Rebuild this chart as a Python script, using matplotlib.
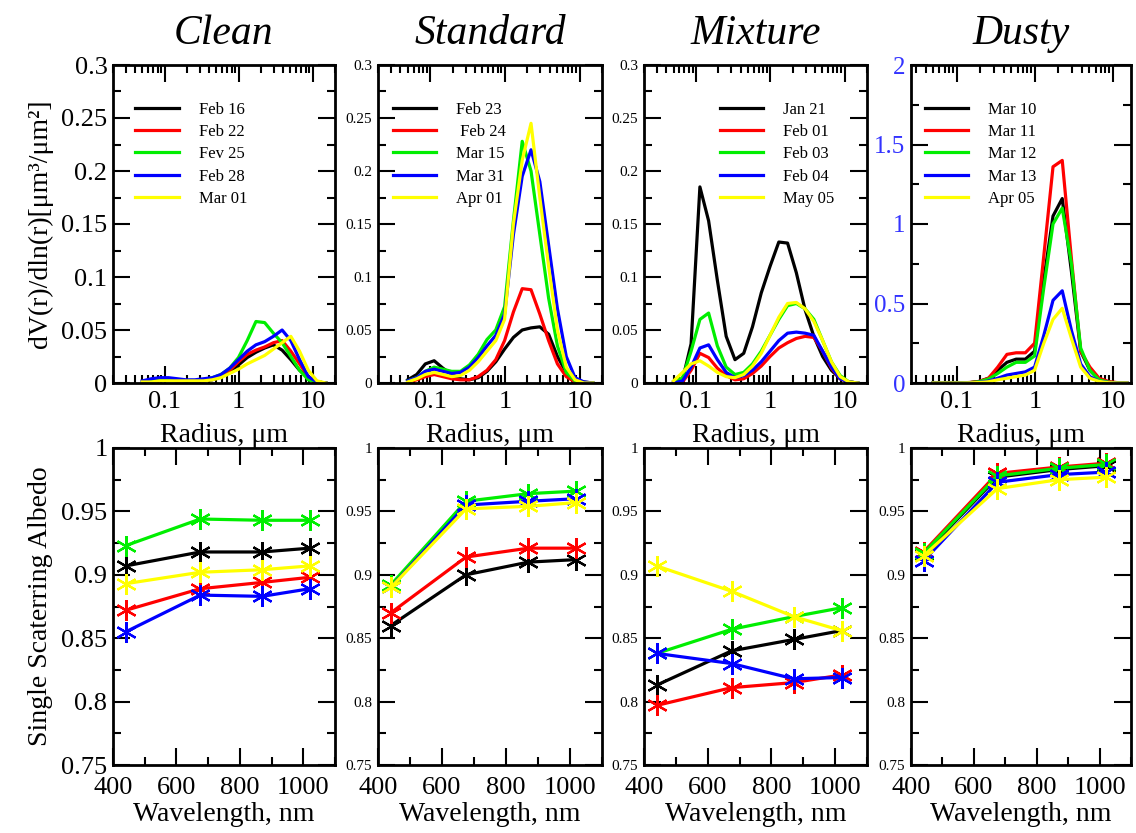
import numpy as np
import matplotlib
matplotlib.use("Agg")
import matplotlib.pyplot as plt
from matplotlib.ticker import FixedLocator, LogLocator, MultipleLocator, FuncFormatter, NullFormatter

plt.rcParams['font.family'] = ['Liberation Serif', 'DejaVu Serif']
plt.rcParams['mathtext.fontset'] = 'stix'

# ---- data -------------------------------------------------------------
titles = ["Clean", "Standard", "Mixture", "Dusty"]
colors = ["#000000", "#ff0000", "#00ee00", "#0000ff", "#ffff00"]

labels = [
    ["Feb 16", "Feb 22", "Fev 25", "Feb 28", "Mar 01"],
    ["Feb 23", " Feb 24", "Mar 15", "Mar 31", "Apr 01"],
    ["Jan 21", "Feb 01", "Feb 03", "Feb 04", "May 05"],
    ["Mar 10", "Mar 11", "Mar 12", "Mar 13", "Apr 05"],
]

radius = [0.050, 0.066, 0.086, 0.113, 0.148, 0.194, 0.255, 0.335, 0.439, 0.576, 0.756,
          0.992, 1.302, 1.708, 2.241, 2.940, 3.857, 5.061, 6.641, 8.713, 11.432, 15.0]

# size distributions dV/dlnr, one list per date
clean_sd = [
    [0.002, 0.002, 0.003, 0.003, 0.003, 0.002, 0.002, 0.002, 0.003, 0.006, 0.010,
     0.017, 0.024, 0.029, 0.033, 0.036, 0.031, 0.022, 0.012, 0.005, 0.001, 0.000],
    [0.001, 0.002, 0.002, 0.003, 0.002, 0.002, 0.002, 0.002, 0.004, 0.007, 0.012,
     0.020, 0.027, 0.031, 0.034, 0.038, 0.040, 0.030, 0.018, 0.006, 0.001, 0.000],
    [0.001, 0.002, 0.003, 0.003, 0.003, 0.002, 0.002, 0.003, 0.005, 0.008, 0.014,
     0.024, 0.040, 0.058, 0.057, 0.047, 0.038, 0.025, 0.012, 0.003, 0.001, 0.000],
    [0.002, 0.004, 0.005, 0.005, 0.004, 0.003, 0.003, 0.004, 0.005, 0.008, 0.014,
     0.022, 0.030, 0.036, 0.039, 0.044, 0.050, 0.040, 0.022, 0.006, 0.001, 0.000],
    [0.001, 0.001, 0.002, 0.002, 0.002, 0.002, 0.002, 0.002, 0.003, 0.005, 0.009,
     0.013, 0.018, 0.022, 0.026, 0.032, 0.038, 0.044, 0.030, 0.012, 0.002, 0.000],
]
standard_sd = [
    [0.003, 0.008, 0.018, 0.021, 0.014, 0.008, 0.004, 0.003, 0.005, 0.011, 0.020,
     0.032, 0.043, 0.050, 0.052, 0.053, 0.046, 0.025, 0.010, 0.003, 0.001, 0.000],
    [0.001, 0.003, 0.006, 0.008, 0.006, 0.004, 0.003, 0.003, 0.006, 0.012, 0.022,
     0.040, 0.067, 0.089, 0.088, 0.065, 0.040, 0.018, 0.006, 0.001, 0.000, 0.000],
    [0.002, 0.005, 0.011, 0.015, 0.013, 0.011, 0.011, 0.017, 0.027, 0.041, 0.050,
     0.072, 0.153, 0.228, 0.200, 0.140, 0.080, 0.035, 0.010, 0.002, 0.000, 0.000],
    [0.002, 0.005, 0.011, 0.013, 0.011, 0.009, 0.010, 0.015, 0.024, 0.035, 0.045,
     0.065, 0.140, 0.195, 0.220, 0.190, 0.130, 0.070, 0.025, 0.005, 0.001, 0.000],
    [0.001, 0.004, 0.008, 0.010, 0.008, 0.006, 0.007, 0.012, 0.020, 0.030, 0.040,
     0.060, 0.150, 0.210, 0.245, 0.175, 0.110, 0.050, 0.015, 0.003, 0.000, 0.000],
]
mixture_sd = [
    [0.001, 0.003, 0.037, 0.185, 0.153, 0.097, 0.044, 0.022, 0.028, 0.053, 0.085,
     0.110, 0.133, 0.132, 0.104, 0.069, 0.044, 0.025, 0.012, 0.004, 0.001, 0.000],
    [0.000, 0.001, 0.012, 0.028, 0.024, 0.014, 0.007, 0.003, 0.004, 0.009, 0.016,
     0.025, 0.033, 0.038, 0.042, 0.044, 0.043, 0.030, 0.014, 0.004, 0.001, 0.000],
    [0.000, 0.005, 0.030, 0.060, 0.066, 0.035, 0.015, 0.008, 0.010, 0.018, 0.030,
     0.045, 0.060, 0.073, 0.075, 0.070, 0.060, 0.040, 0.020, 0.007, 0.001, 0.000],
    [0.000, 0.002, 0.015, 0.033, 0.036, 0.022, 0.010, 0.005, 0.007, 0.012, 0.020,
     0.030, 0.040, 0.047, 0.048, 0.047, 0.045, 0.030, 0.015, 0.004, 0.001, 0.000],
    [0.002, 0.010, 0.018, 0.021, 0.016, 0.010, 0.006, 0.005, 0.008, 0.016, 0.028,
     0.045, 0.062, 0.075, 0.076, 0.070, 0.058, 0.040, 0.020, 0.006, 0.001, 0.000],
]
dusty_sd = [
    [0.000, 0.000, 0.000, 0.001, 0.003, 0.010, 0.030, 0.080, 0.130, 0.150, 0.150,
     0.200, 0.650, 1.050, 1.160, 0.700, 0.200, 0.080, 0.020, 0.005, 0.001, 0.000],
    [0.000, 0.000, 0.000, 0.001, 0.003, 0.010, 0.030, 0.100, 0.180, 0.190, 0.190,
     0.250, 0.800, 1.360, 1.400, 0.780, 0.200, 0.100, 0.030, 0.010, 0.002, 0.000],
    [0.000, 0.000, 0.000, 0.001, 0.002, 0.008, 0.025, 0.060, 0.100, 0.130, 0.130,
     0.170, 0.600, 1.000, 1.100, 0.750, 0.220, 0.080, 0.020, 0.005, 0.001, 0.000],
    [0.000, 0.000, 0.000, 0.000, 0.001, 0.004, 0.012, 0.030, 0.050, 0.060, 0.070,
     0.100, 0.300, 0.520, 0.580, 0.330, 0.120, 0.040, 0.010, 0.003, 0.000, 0.000],
    [0.000, 0.000, 0.000, 0.000, 0.001, 0.003, 0.008, 0.020, 0.030, 0.040, 0.050,
     0.080, 0.250, 0.400, 0.470, 0.280, 0.100, 0.030, 0.010, 0.002, 0.000, 0.000],
]

wavelength = [440, 675, 870, 1020]
clean_ssa = [
    [0.907, 0.918, 0.918, 0.921],
    [0.872, 0.889, 0.894, 0.898],
    [0.923, 0.944, 0.943, 0.943],
    [0.855, 0.884, 0.883, 0.889],
    [0.893, 0.902, 0.904, 0.907],
]
standard_ssa = [
    [0.860, 0.900, 0.910, 0.912],
    [0.870, 0.914, 0.921, 0.921],
    [0.892, 0.958, 0.964, 0.966],
    [0.890, 0.955, 0.958, 0.960],
    [0.890, 0.952, 0.954, 0.957],
]
mixture_ssa = [
    [0.813, 0.840, 0.849, 0.856],
    [0.797, 0.811, 0.815, 0.821],
    [0.838, 0.857, 0.867, 0.874],
    [0.838, 0.830, 0.818, 0.819],
    [0.907, 0.887, 0.867, 0.856],
]
dusty_ssa = [
    [0.916, 0.977, 0.983, 0.986],
    [0.918, 0.980, 0.985, 0.988],
    [0.917, 0.978, 0.984, 0.987],
    [0.911, 0.973, 0.979, 0.981],
    [0.915, 0.968, 0.975, 0.977],
]

size_dists = [clean_sd, standard_sd, mixture_sd, dusty_sd]
ssa_sets = [clean_ssa, standard_ssa, mixture_ssa, dusty_ssa]

# ---- layout (pixel boxes of the original) -----------------------------
W, H = 1136, 833
cols = [(113, 335), (378, 602), (644, 867), (911, 1131)]
top_row = (65, 383)
bot_row = (448, 765)
top_xlims = [(0.02, 20), (0.02, 20), (0.02, 20), (0.026, 17)]
top_ylims = [(0, 0.3), (0, 0.3), (0, 0.3), (0, 2)]
top_ysize = [19, 11, 11, 18]
bot_ysize = [19, 11, 11, 11]
legend_x = [0.10, 0.067, 0.34, 0.064]


def box(col, row):
    x0, x1 = col
    y0, y1 = row
    return [x0 / W, 1 - y1 / H, (x1 - x0) / W, (y1 - y0) / H]


def style(ax):
    ax.tick_params(which='both', direction='in', top=True, right=True, width=1.5)
    ax.tick_params(which='major', length=12)
    ax.tick_params(which='minor', length=6)
    for s in ax.spines.values():
        s.set_linewidth(2)


fmt = FuncFormatter(lambda v, p: f"{v:g}")

fig = plt.figure(figsize=(W / 100, H / 100), dpi=100)

for i in range(4):
    # size distribution panels
    ax = fig.add_axes(box(cols[i], top_row))
    for k in range(5):
        ax.plot(radius, size_dists[i][k], color=colors[k], lw=2.3, label=labels[i][k])
    ax.set_xscale('log')
    ax.set_xlim(*top_xlims[i])
    ax.set_ylim(*top_ylims[i])
    ax.xaxis.set_major_locator(FixedLocator([0.1, 1, 10]))
    ax.xaxis.set_major_formatter(fmt)
    ax.xaxis.set_minor_locator(LogLocator(subs=np.arange(2, 10)))
    ax.xaxis.set_minor_formatter(NullFormatter())
    if i == 3:
        ax.yaxis.set_major_locator(MultipleLocator(0.5))
        ax.yaxis.set_minor_locator(MultipleLocator(0.25))
    else:
        ax.yaxis.set_major_locator(MultipleLocator(0.05))
        ax.yaxis.set_minor_locator(MultipleLocator(0.025))
    ax.yaxis.set_major_formatter(fmt)
    style(ax)
    ax.tick_params(axis='x', labelsize=19, pad=6)
    ax.tick_params(axis='y', labelsize=top_ysize[i], pad=4)
    if i == 3:
        ax.tick_params(axis='y', labelcolor='#3333ff')
    ax.set_xlabel("Radius, \u03bcm", fontsize=20, labelpad=7)
    ax.set_title(titles[i], fontsize=30, style='italic', pad=15)
    ax.legend(loc='upper left', bbox_to_anchor=(legend_x[i], 0.885), frameon=False,
              fontsize=12, handlelength=2.6, handletextpad=1.2, labelspacing=0.38,
              borderpad=0, borderaxespad=0)
    if i == 0:
        ax.set_ylabel("dV(r)/dln(r)[\u03bcm\u00b3/\u03bcm\u00b2]", fontsize=20, labelpad=6)

    # single scattering albedo panels
    ax = fig.add_axes(box(cols[i], bot_row))
    for k in range(5):
        ax.plot(wavelength, ssa_sets[i][k], color=colors[k], lw=2.3,
                marker=(6, 2, 0), markersize=15, markeredgewidth=1.6)
    ax.set_xlim(400, 1100)
    ax.set_ylim(0.75, 1.0)
    ax.xaxis.set_major_locator(MultipleLocator(200))
    ax.xaxis.set_minor_locator(MultipleLocator(100))
    ax.yaxis.set_major_locator(MultipleLocator(0.05))
    ax.yaxis.set_minor_locator(MultipleLocator(0.025))
    ax.yaxis.set_major_formatter(fmt)
    style(ax)
    ax.tick_params(axis='x', labelsize=19, pad=9)
    ax.tick_params(axis='y', labelsize=bot_ysize[i], pad=4)
    ax.set_xlabel("Wavelength, nm", fontsize=20, labelpad=2)
    if i == 0:
        ax.set_ylabel("Single Scaterring Albedo", fontsize=20, labelpad=6)

fig.savefig("out.png", dpi=100)
